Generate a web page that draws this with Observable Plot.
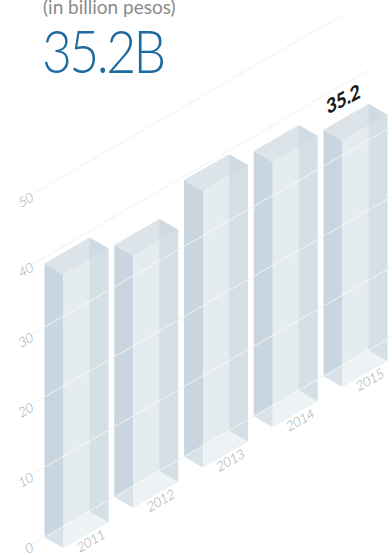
<!DOCTYPE html>
<html><head><meta charset="utf-8">
<script src="https://cdn.jsdelivr.net/npm/d3@7"></script>
<script src="https://cdn.jsdelivr.net/npm/@observablehq/plot@0.6"></script>
<style>
html,body{margin:0;padding:0;background:#fff;}
#wrap{position:relative;width:392px;height:555px;overflow:hidden;}
#chart{position:absolute;left:0;top:0;}
#sub{position:absolute;left:43px;top:-3px;font-family:Lato,sans-serif;font-size:19px;line-height:1;color:#8a8a8a;white-space:nowrap;}
#big{position:absolute;left:42px;top:20px;font-family:Lato,sans-serif;font-weight:300;font-size:60px;line-height:1;color:#1d6aa0;letter-spacing:-3px;transform:scaleX(0.86);transform-origin:0 0;white-space:nowrap;}
</style></head><body>
<div id="wrap"><div id="chart"></div><div id="sub">(in billion pesos)</div><div id="big">35.2B</div></div>
<script>
// ---- data ----
const years = ["2011", "2012", "2013", "2014", "2015"];
const values = [39.1, 36.0, 39.5, 37.9, 35.2];
const ticks = [0, 10, 20, 30, 40, 50];
const highlightYear = "2015";

// ---- isometric layout (value units) ----
const K = 7.0;                 // pixels per value unit
const px = 1 / K;              // one pixel in value units
const C = Math.cos(Math.PI / 6), S = Math.sin(Math.PI / 6);
const band = d3.scaleBand()
  .domain(years)
  .range([11 * px / C, (11 + 4 * 69.75 + 45) * px / C])
  .paddingInner(1 - 45 / 69.75)
  .paddingOuter(0);
const depth = 19 * px / C;
const proj = (s, d, v) => ({x: (s + d) * C, y: v + (s - d) * S});

const bars = years.map((year, i) => ({year, value: values[i], s0: band(year), s1: band(year) + band.bandwidth()}));
const poly = (b, pts) => pts.map(([s, d, v]) => ({id: b.year, ...proj(s, d, v)}));

const leftFaces = bars.flatMap(b => poly(b, [[b.s0,0,0],[b.s0,depth,0],[b.s0,depth,b.value],[b.s0,0,b.value]]));
const frontFaces = bars.flatMap(b => poly(b, [[b.s0,depth,0],[b.s1,depth,0],[b.s1,depth,b.value],[b.s0,depth,b.value]]));
const rightFaces = bars.flatMap(b => poly(b, [[b.s1,0,0],[b.s1,depth,0],[b.s1,depth,b.value],[b.s1,0,b.value]]));
const topFaces = bars.flatMap(b => poly(b, [[b.s0,0,b.value],[b.s1,0,b.value],[b.s1,depth,b.value],[b.s0,depth,b.value]]));
const bottomFaces = bars.flatMap(b => poly(b, [[b.s0,0,0],[b.s1,0,0],[b.s1,depth,0],[b.s0,depth,0]]));

const grid = ticks.flatMap(g => {
  const end = (310 + (50 - g) * 2.5) * px / C;
  return [{tick: g, ...proj(0, 0, g)}, {tick: g, ...proj(end, 0, g)}];
});
const tickLabels = ticks.map(g => ({label: String(g), x: -1 * px, y: g - 3 * px}));
const yearLabels = bars.map(b => ({label: b.year, ...proj((b.s0 + b.s1) / 2 - 3 * px, depth + 9 * px, 0)}));
const valueLabels = bars.filter(b => b.year === highlightYear)
  .map(b => ({label: String(b.value), ...proj(b.s0 + 23 * px, 0, b.value + 18.5 * px)}));

const chart = Plot.plot({
  width: 392, height: 555,
  marginTop: 0, marginRight: 0, marginBottom: 0, marginLeft: 0,
  x: {domain: [-33 * px, (392 - 33) * px], range: [0, 392], axis: null},
  y: {domain: [(543 - 555) * px, 543 * px], range: [555, 0], axis: null},
  style: {fontFamily: "Lato, sans-serif", background: "#fff"},
  marks: [
    Plot.line(grid, {x: "x", y: "y", z: "tick", stroke: "#e3e3e3", strokeWidth: 1}),
    Plot.line(leftFaces, {x: "x", y: "y", z: "id", fill: "#c9d6df", stroke: "none", curve: "linear-closed"}),
    Plot.line(frontFaces, {x: "x", y: "y", z: "id", fill: "#e5ecf0", stroke: "none", curve: "linear-closed"}),
    Plot.line(topFaces, {x: "x", y: "y", z: "id", fill: "#dce4ea", stroke: "none", curve: "linear-closed"}),
    Plot.line(rightFaces, {x: "x", y: "y", z: "id", fill: "#b8c9d5", fillOpacity: 0.35, stroke: "none", curve: "linear-closed"}),
    Plot.line(bottomFaces, {x: "x", y: "y", z: "id", fill: "#ffffff", fillOpacity: 0.3, stroke: "none", curve: "linear-closed"}),
    Plot.line(grid, {x: "x", y: "y", z: "tick", stroke: "#ffffff", strokeOpacity: 0.7, strokeWidth: 1}),
    Plot.text(tickLabels, {x: "x", y: "y", text: "label", rotate: -30, textAnchor: "end", fontSize: 13, fontWeight: 300, fill: "#a3a3a3"}),
    Plot.text(yearLabels, {x: "x", y: "y", text: "label", rotate: -30, textAnchor: "middle", fontSize: 13, fontWeight: 300, fill: "#a3a3a3"}),
    Plot.text(valueLabels, {x: "x", y: "y", text: "label", rotate: -27, textAnchor: "middle", fontSize: 19, fontWeight: 900, fill: "#1a1a1a"})
  ]
});
// oblique (italic-like) slant on the rotated labels
const slant = new Map([...tickLabels, ...yearLabels].map(d => [d.label, -10]));
valueLabels.forEach(d => slant.set(d.label, -18));
d3.select(chart).selectAll("text").each(function() {
  const t = this.getAttribute("transform");
  const k = slant.get(this.textContent);
  if (t && k !== undefined) this.setAttribute("transform", t + ` skewX(${k})`);
});
document.getElementById("chart").appendChild(chart);
</script>
</body></html>
